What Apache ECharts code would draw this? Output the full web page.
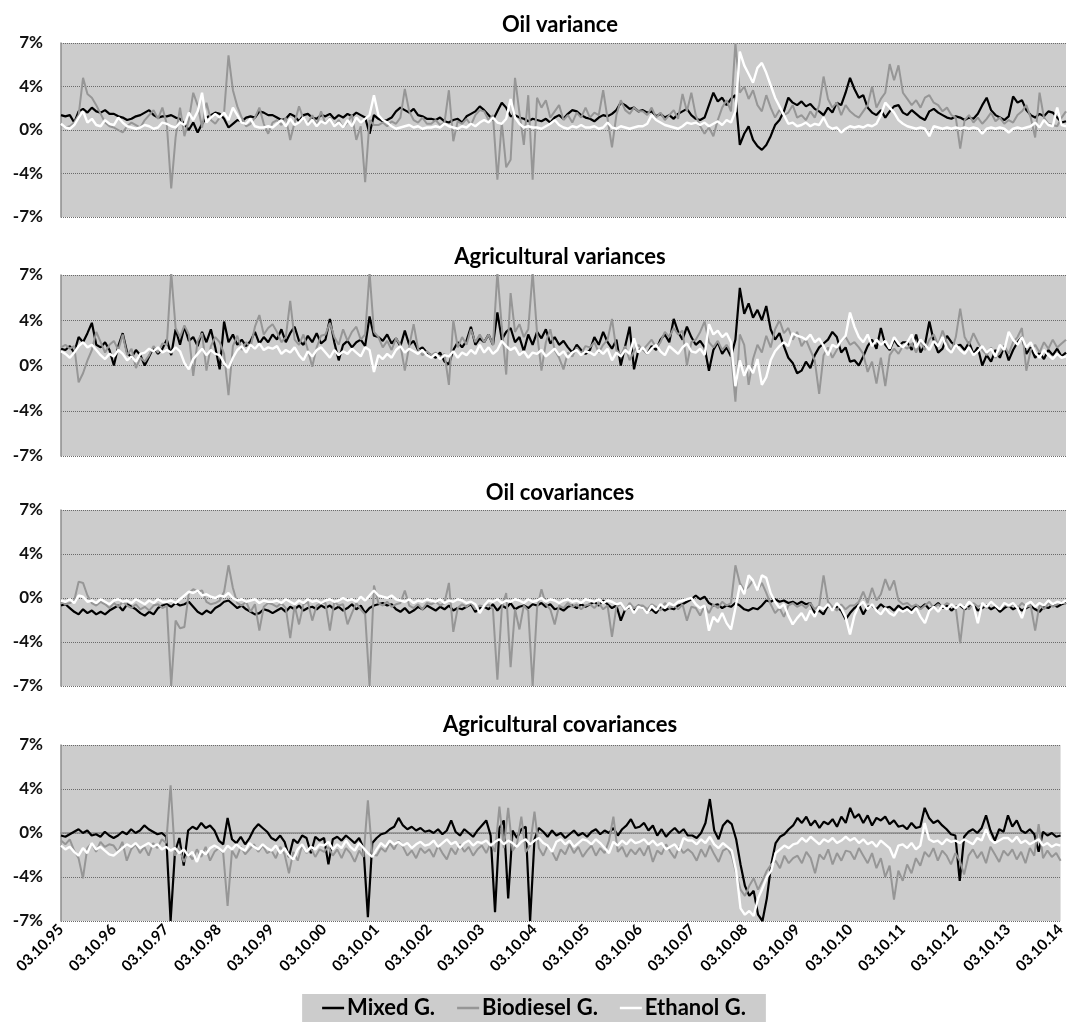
<!DOCTYPE html>
<html><head><meta charset="utf-8"><title>Variances and covariances</title>
<script src="https://cdn.jsdelivr.net/npm/echarts@6/dist/echarts.min.js"></script>
<style>html,body{margin:0;padding:0;background:#fff}#chart{width:1068px;height:1036px}</style>
</head><body><div id="chart"></div>
<script>
const tickLabels = ['03.10.95','03.10.96','03.10.97','03.10.98','03.10.99','03.10.00','03.10.01','03.10.02','03.10.03','03.10.04','03.10.05','03.10.06','03.10.07','03.10.08','03.10.09','03.10.10','03.10.11','03.10.12','03.10.13','03.10.14'];
const panelTitles = ['Oil variance','Agricultural variances','Oil covariances','Agricultural covariances'];
const seriesNames = ['Mixed G.','Biodiesel G.','Ethanol G.'];

// values in percent, one per month from Oct 1995 to Oct 2014
const oilVarMixed = [
1.2,1.1,1.2,0.6,1.5,1.7,1.4,1.8,1.5,1.4,1.6,1.3,
1.3,1.1,1.0,0.8,0.9,1.1,1.2,1.4,1.6,1.2,1.0,1.1,
1.1,1.2,1.0,0.9,0.5,0.0,0.6,-0.2,0.5,1.0,1.2,1.4,
1.3,0.9,0.2,0.5,0.8,0.7,1.0,1.1,1.0,1.5,1.4,1.2,
1.2,1.0,0.8,0.9,1.3,1.1,0.7,1.2,1.3,1.0,0.9,1.2,
1.1,1.3,0.9,1.2,1.0,1.3,1.1,1.4,1.2,1.0,-0.3,1.2,
0.9,0.7,0.8,1.0,1.5,1.8,1.6,1.4,1.7,1.2,1.1,0.9,
0.9,0.8,1.0,0.7,0.6,0.8,0.9,0.6,1.1,1.3,1.5,1.9,
1.6,1.2,0.8,1.5,2.2,1.8,1.1,1.2,1.0,0.9,0.7,0.9,
0.8,0.7,0.9,0.6,1.0,1.2,0.9,1.3,1.6,1.5,1.2,1.0,
0.9,0.7,1.0,1.2,1.1,1.3,1.6,2.2,2.0,1.7,1.8,1.5,
1.6,1.4,1.5,1.1,1.3,1.0,1.2,0.9,1.3,1.5,1.7,1.2,
0.9,0.8,1.0,2.0,3.0,2.3,2.6,2.0,2.5,2.8,-1.2,-0.3,
0.3,-0.8,-1.3,-1.6,-1.2,-0.5,0.4,0.8,1.5,2.6,2.2,2.0,
2.3,1.9,2.1,1.7,1.5,1.2,1.8,1.4,2.2,2.0,3.0,4.2,
3.3,2.6,2.8,1.8,1.4,1.2,1.6,1.0,1.5,1.9,2.0,1.4,
1.2,1.6,1.3,1.0,0.8,1.5,1.7,1.4,1.2,1.0,0.9,1.1,
1.0,0.8,1.0,0.9,1.3,2.0,2.6,1.6,1.2,1.0,0.8,1.1,
2.7,2.2,2.4,1.6,1.2,1.0,1.3,1.1,1.5,1.4,1.0,0.6,
0.7];
const oilVarBio = [
0.4,0.2,0.3,0.6,1.2,4.2,2.9,2.6,2.0,1.3,0.6,0.3,
0.2,0.0,-0.2,0.3,0.6,0.4,0.2,0.8,1.2,1.6,0.9,1.8,
0.5,-4.7,-0.6,1.8,-0.5,0.8,3.0,2.0,0.2,2.2,0.8,0.5,
1.0,1.4,6.0,3.2,1.9,1.0,0.3,0.5,1.0,1.8,0.5,-0.3,
0.6,0.8,0.4,1.0,-0.8,0.6,1.9,0.9,0.5,1.2,0.4,1.5,
0.5,1.0,0.3,0.8,0.2,0.6,1.2,-0.8,0.3,-4.2,0.8,0.4,
0.4,0.6,0.3,0.7,0.5,1.0,3.3,1.5,0.8,0.6,1.0,0.5,
0.5,0.8,0.4,0.6,3.2,-0.9,0.7,0.5,0.9,0.4,1.2,1.6,
1.5,0.8,1.2,-4.0,0.6,-3.0,-2.4,4.2,1.4,-1.2,2.8,-4.0,
2.6,1.8,2.4,1.0,1.5,2.0,0.8,1.2,0.6,1.4,1.0,1.8,
1.0,1.4,1.2,3.2,0.9,-1.4,1.2,2.4,1.6,1.3,1.8,1.5,
1.5,1.2,1.8,1.0,1.4,0.8,1.2,1.6,0.9,2.9,1.5,3.0,
1.2,0.3,-0.3,0.2,-0.5,0.8,1.8,2.4,1.5,7.0,3.0,3.5,
2.5,3.2,2.0,1.5,2.8,1.8,1.0,1.6,1.2,1.4,2.0,1.0,
1.2,0.8,1.5,1.0,2.0,4.3,2.5,1.8,2.2,1.2,2.0,1.5,
1.2,1.0,1.5,2.0,3.5,1.8,2.5,3.0,5.3,4.0,5.2,3.0,
2.5,2.0,2.4,1.8,2.6,2.8,2.2,2.0,1.5,1.8,1.2,1.0,
-1.5,0.8,1.2,0.6,1.0,0.5,0.9,1.4,0.7,1.0,0.5,0.8,
0.6,1.2,1.5,2.0,1.0,-0.6,3.0,1.0,0.5,0.4,0.3,1.0,
1.5];
const oilVarEth = [
0.5,0.2,0.1,0.4,1.0,1.5,0.6,0.9,0.4,0.3,0.8,0.5,
0.4,1.0,0.6,0.3,0.2,0.1,0.2,0.4,0.3,0.1,0.2,0.6,
0.5,0.3,0.2,0.6,0.4,1.4,0.8,1.5,3.0,0.6,1.0,1.3,
1.0,1.4,0.8,1.8,1.2,0.6,0.5,0.9,0.3,0.2,0.2,0.3,
0.2,0.5,0.8,0.3,0.9,0.4,0.6,1.0,0.4,0.8,0.3,0.7,
0.5,0.9,0.3,0.6,0.2,0.8,0.3,1.0,0.6,0.9,1.2,2.8,
1.2,0.8,0.6,0.3,0.1,0.2,0.3,0.4,0.2,0.3,0.1,0.2,
0.2,0.3,0.2,0.5,0.3,0.2,0.1,0.3,0.2,0.5,0.3,0.6,
0.8,0.6,1.0,0.6,0.5,0.9,2.5,1.0,0.5,0.2,0.3,0.2,
0.2,0.1,0.3,0.5,0.8,0.4,0.2,0.1,0.3,0.2,0.4,0.2,
0.2,0.3,0.1,0.2,0.6,0.2,0.1,0.3,0.2,0.1,0.2,0.3,
0.3,0.5,1.2,0.8,0.6,0.4,0.3,0.2,0.1,0.3,0.6,0.5,
0.6,0.4,0.6,0.3,0.5,0.7,0.4,0.8,0.6,1.5,6.3,5.2,
4.5,3.8,5.0,5.4,4.6,3.6,2.6,1.9,1.2,0.5,0.6,0.3,
0.4,0.6,0.3,0.5,0.4,1.0,0.3,0.1,0.2,-0.2,0.1,0.3,
0.2,0.3,0.2,0.4,0.3,0.5,1.2,2.2,1.8,1.4,0.8,0.5,
0.3,0.2,0.1,0.2,0.1,-0.5,0.3,0.2,0.1,0.2,0.1,0.2,
0.1,0.2,0.1,0.2,0.1,-0.3,0.1,0.2,0.1,0.2,0.1,-0.2,
0.1,0.2,0.1,0.2,0.3,0.6,0.2,0.8,0.4,0.3,1.8,0.4,
0.3];

const agVarMixed = [
1.3,1.2,1.5,1.0,2.2,1.8,2.5,3.3,1.6,1.4,1.8,1.2,
0.0,1.5,2.5,1.0,0.6,1.2,0.8,0.0,0.7,1.4,0.9,1.3,
2.0,0.8,2.8,1.6,3.0,1.9,2.2,1.5,2.6,1.8,2.8,1.4,
-0.3,3.4,1.8,2.4,1.6,2.0,1.5,1.9,2.6,1.7,2.2,1.8,
2.4,2.0,2.8,1.8,2.5,3.0,1.9,1.6,2.3,1.8,2.5,1.7,
2.0,3.6,1.8,0.4,1.6,1.9,1.4,1.8,2.0,1.5,3.8,2.3,
2.2,1.9,2.4,1.7,2.1,1.5,2.7,1.6,1.9,1.2,1.4,1.0,
0.8,0.6,1.0,0.3,0.1,1.2,1.8,1.4,1.9,3.0,1.6,2.1,
1.8,2.4,1.6,4.1,2.0,2.6,2.9,1.8,2.2,1.1,2.4,1.6,
2.6,2.1,2.8,1.7,2.2,1.6,1.9,1.4,1.0,1.6,1.2,0.9,
1.2,2.2,1.6,2.6,1.8,1.3,2.0,0.0,1.5,3.0,-0.3,1.2,
1.3,0.9,1.5,1.2,2.0,2.4,1.8,3.6,2.6,2.0,3.0,2.2,
1.6,1.9,1.4,-0.4,1.2,1.8,0.9,1.4,0.7,2.0,6.0,4.0,
4.8,3.7,4.3,3.5,4.6,2.8,2.0,2.5,1.5,0.6,0.2,-0.6,
-0.4,0.3,-0.2,0.8,1.4,1.7,2.0,2.6,2.2,1.0,1.4,0.3,
0.4,0.0,0.7,1.5,2.0,1.3,2.9,1.6,1.2,2.0,1.5,1.8,
1.8,1.2,2.4,1.0,1.6,3.4,1.9,1.0,1.3,2.3,1.8,1.5,
1.6,1.2,1.8,0.9,1.4,0.0,0.8,0.3,1.2,0.6,1.5,0.4,
1.2,1.8,2.2,0.9,1.4,0.6,1.0,0.5,1.2,0.8,1.3,0.7,
1.0];
const agVarBio = [
1.4,1.6,1.3,1.5,-1.3,-0.6,0.4,1.2,2.6,1.8,1.0,1.6,
1.9,1.2,2.4,0.8,1.3,-0.2,0.6,0.3,0.8,1.5,1.0,1.7,
1.6,7.2,2.9,2.2,3.1,2.4,-0.8,1.9,2.5,-0.4,1.5,2.2,
1.8,0.9,-2.3,1.5,2.3,1.2,1.8,1.4,3.0,3.9,2.4,2.9,
3.2,2.6,1.8,2.2,5.0,2.0,1.6,2.4,1.2,-0.1,1.4,2.3,
2.4,3.3,2.2,1.6,2.8,1.9,2.6,3.0,2.0,2.4,7.2,2.6,
2.2,1.4,1.9,1.2,2.1,1.6,-0.4,1.5,3.2,1.3,0.8,1.1,
0.8,1.0,0.6,0.9,-1.5,3.5,1.4,2.2,1.6,2.8,1.8,2.4,
1.8,2.4,1.6,7.2,3.0,-0.7,5.6,2.6,3.2,2.2,2.8,7.2,
2.5,-0.4,1.8,2.8,1.2,0.6,-0.3,1.0,0.7,1.4,0.9,1.5,
1.4,1.8,1.0,1.6,2.0,3.6,1.2,0.8,1.5,0.4,1.1,1.6,
1.2,1.6,2.0,1.4,1.8,2.6,2.2,2.9,2.4,2.7,0.0,1.8,
2.0,2.6,3.4,1.8,1.4,1.9,1.2,1.6,1.0,-2.8,2.4,1.6,
-1.5,0.5,1.6,1.0,2.3,1.4,2.8,3.5,2.5,2.9,2.0,2.6,
1.5,2.0,1.2,0.4,-2.2,0.8,1.4,0.6,1.2,1.9,2.2,1.6,
1.8,1.4,0.9,-0.5,0.3,-1.4,0.6,-1.6,0.8,1.3,0.9,1.5,
1.3,1.7,1.0,1.9,1.2,2.0,2.4,1.6,2.7,1.8,1.1,2.2,
4.4,2.2,1.6,2.5,1.8,1.2,0.8,1.4,0.6,1.0,1.5,0.9,
1.8,2.2,2.9,-0.4,1.2,1.6,1.0,1.8,1.3,2.0,1.4,1.7,
2.0];
const agVarEth = [
1.1,0.9,0.6,1.0,1.5,1.8,1.4,1.6,1.2,0.8,0.5,0.9,
0.7,1.2,0.9,0.4,0.7,0.3,0.9,1.0,1.3,1.1,1.4,1.0,
1.2,1.0,1.4,1.1,0.2,-0.3,0.5,0.9,1.3,0.8,1.2,0.9,
0.8,0.2,-0.2,0.6,1.2,1.5,1.0,1.6,1.3,1.7,1.2,1.4,
1.3,1.5,0.9,1.2,1.0,1.4,0.8,0.4,1.1,0.7,1.2,1.4,
1.0,0.6,1.2,0.8,1.1,0.9,1.3,1.0,0.7,1.4,1.2,-0.5,
0.8,0.5,0.9,0.6,1.2,1.5,1.0,1.3,1.1,0.9,1.2,0.8,
0.6,0.9,0.5,0.8,0.7,1.1,0.6,1.0,0.8,1.2,0.9,1.6,
1.0,1.4,0.9,1.2,1.9,1.5,1.2,1.4,0.8,1.1,0.6,1.0,
0.9,1.2,0.7,1.0,1.3,0.8,1.1,0.6,1.0,1.2,0.8,1.1,
1.0,0.8,1.2,0.9,1.3,0.4,1.0,0.7,1.2,0.9,2.1,1.0,
1.4,0.9,1.3,1.6,1.1,0.8,1.5,1.2,0.9,1.4,1.7,1.1,
1.0,1.3,0.8,3.2,2.4,2.7,2.2,2.5,1.8,-1.6,0.4,-0.8,
0.0,-0.6,0.5,-1.5,-0.9,0.4,1.1,1.5,1.8,1.5,2.5,2.3,
2.2,2.0,2.4,1.8,2.1,1.5,0.8,1.6,1.4,1.9,2.3,4.1,
3.0,2.2,1.8,2.4,1.5,2.0,1.6,1.9,1.3,2.2,1.7,1.4,
1.8,2.4,1.4,2.0,1.6,1.2,1.9,1.5,2.2,1.3,1.0,1.6,
1.2,0.9,1.4,0.8,1.1,1.5,1.0,1.3,0.7,1.6,1.2,2.6,
2.0,1.6,2.2,1.4,1.8,1.0,0.6,1.2,0.8,0.5,0.9,0.6,
0.7];

const oilCovMixed = [
-0.6,-0.5,-0.8,-1.1,-1.3,-0.9,-1.2,-1.0,-1.3,-1.1,-1.3,-1.0,
-0.8,-0.6,-1.0,-0.5,-0.7,-0.9,-1.2,-1.4,-1.1,-1.3,-0.8,-0.6,
-0.5,-0.7,-0.4,-0.6,-0.5,-0.3,-0.7,-1.1,-1.3,-1.0,-1.2,-0.8,
-0.6,-0.3,-0.2,-0.5,-0.8,-0.6,-0.9,-1.1,-1.3,-1.2,-0.9,-1.0,
-1.2,-1.0,-0.8,-1.1,-0.7,-0.9,-0.6,-1.0,-0.8,-0.7,-0.9,-0.6,
-0.8,-0.6,-0.9,-0.7,-1.0,-0.8,-0.5,-0.9,-0.6,-1.2,-0.8,-0.6,
-0.5,-0.4,-0.6,-0.5,-0.9,-1.1,-0.8,-1.2,-1.0,-0.7,-0.9,-0.6,
-0.8,-1.0,-0.7,-0.9,-0.6,-1.0,-0.8,-0.9,-0.7,-0.5,-1.1,-0.8,
-0.7,-0.9,-0.5,-1.0,-0.6,-0.8,-0.4,-0.9,-0.7,-0.6,-0.8,-0.5,
-0.6,-0.4,-0.7,-0.5,-0.9,-0.8,-1.0,-0.7,-0.6,-0.8,-0.5,-0.7,
-0.5,-0.3,-0.6,-0.2,-0.5,-0.8,-0.6,-1.8,-0.9,-0.7,-1.0,-0.6,
-0.8,-1.1,-0.9,-1.2,-0.7,-1.0,-0.8,-0.9,-0.6,-0.5,-0.3,-0.1,
0.2,-0.1,0.1,-0.4,-0.6,-0.5,-0.8,-0.6,-0.7,-0.4,-0.6,-0.9,
-1.0,-0.8,-0.9,-0.6,-0.2,-0.3,-0.1,-0.3,-0.2,-0.4,-0.3,-0.5,
-0.3,-0.5,-0.4,-1.2,-1.0,-1.3,-0.6,-0.9,-0.7,-1.0,-1.7,-1.2,
-0.8,-0.5,-1.3,-0.7,-0.6,-0.9,-0.5,-0.8,-0.7,-1.0,-0.6,-0.9,
-0.7,-1.0,-0.6,-0.8,-0.5,-0.9,-0.7,-0.4,-0.8,-0.6,-1.0,-0.7,
-0.6,-0.9,-0.7,-0.5,-1.0,-0.8,-0.6,-0.9,-0.7,-1.1,-0.8,-0.6,
-0.9,-0.7,-1.0,-0.8,-0.6,-0.9,-1.1,-0.7,-0.8,-0.5,-0.7,-0.5,
-0.4];
const oilCovBio = [
-0.3,-0.5,-0.4,-0.2,1.3,1.2,0.2,-0.4,-0.6,-0.3,-0.5,-0.8,
-0.4,-0.7,-0.3,-0.6,-0.8,-0.5,-0.9,-0.7,-1.0,-0.6,-0.5,-0.8,
-0.6,-7.0,-1.8,-2.4,-2.3,0.4,0.7,0.5,0.6,-0.3,-0.5,-0.4,
-0.2,0.5,2.6,0.8,-0.4,-0.6,-0.3,-1.1,-0.5,-2.6,-0.7,-0.4,
-0.5,-0.7,-0.4,-0.8,-3.2,-0.6,-2.1,-0.5,-0.3,-1.8,-0.6,-0.4,
-0.4,-2.6,-0.3,-0.6,-0.5,-2.1,-1.2,-0.4,-0.9,-1.3,-7.0,1.0,
-0.4,-0.6,-0.3,-0.7,-0.5,-0.4,0.6,-0.6,-0.8,-0.5,-0.9,-0.4,
-0.5,-0.3,-0.6,-0.4,1.2,-2.7,-0.8,-0.5,-0.7,-0.4,-0.9,-0.6,
-0.7,-0.5,-0.9,-6.5,-0.8,0.4,-5.5,-0.9,-2.5,-0.6,-1.0,-7.0,
-0.8,0.7,-0.5,-0.9,-2.1,-0.6,-0.8,-0.4,-0.7,-0.5,-0.9,-0.6,
-0.5,-0.8,-0.4,-0.9,-0.6,-3.1,-0.7,-0.5,-1.0,-0.4,-0.8,-0.6,
-0.6,-0.9,-0.5,-0.7,-1.0,-0.4,-0.8,-0.6,-0.9,-0.5,-1.8,-0.7,
-0.8,-1.4,-0.6,-1.2,-0.5,-0.8,-0.3,-0.6,-0.4,2.6,1.2,0.6,
0.9,1.4,0.6,1.2,0.4,-0.5,-1.2,-0.8,-1.5,-0.6,-0.4,-0.7,
-0.5,-0.8,-0.4,-0.9,-0.6,1.8,-0.3,-0.7,-1.0,-0.5,-0.9,-0.6,
-0.6,-0.3,0.5,-0.4,0.8,-0.2,0.3,1.5,0.6,1.4,-0.2,-0.5,
-0.4,-0.7,-0.5,-0.9,-0.6,-0.3,-0.8,-0.5,-0.7,-0.4,-0.6,-0.8,
-3.6,-0.6,-0.9,-0.4,-0.7,-0.5,-0.8,-0.3,-0.6,-0.9,-0.5,-0.7,
-0.5,-0.8,-0.4,-0.7,-0.6,-2.6,-0.5,-0.9,-0.4,-0.7,-0.5,-0.3,
-0.5];
const oilCovEth = [
-0.2,-0.3,-0.1,-0.4,0.2,0.1,-0.3,-0.2,-0.4,-0.1,-0.3,-0.5,
-0.2,-0.1,-0.3,-0.2,-0.4,-0.1,-0.3,-0.5,-0.2,-0.4,-0.1,-0.3,
-0.3,-0.2,-0.4,-0.1,0.2,0.5,0.4,0.6,0.2,0.3,0.1,0.0,
0.2,0.1,0.4,0.0,-0.2,-0.1,-0.3,-0.2,-0.1,-0.4,-0.2,-0.3,
-0.3,-0.2,-0.4,-0.1,-0.3,-0.5,-0.2,-0.4,-0.1,-0.3,-0.2,-0.4,
-0.2,-0.1,-0.3,-0.2,0.0,-0.2,-0.1,-0.3,0.1,-0.2,0.2,0.6,
0.2,0.1,0.0,0.2,-0.1,-0.2,-0.3,-0.1,-0.4,-0.2,-0.3,-0.1,
-0.2,-0.3,-0.1,-0.4,-0.2,-0.3,-0.1,-0.2,-0.4,-0.3,-0.5,-1.2,
-0.6,-0.2,-0.3,-0.1,-0.4,-0.2,-0.3,-0.1,-0.2,-0.4,-0.1,-0.3,
-0.2,0.0,-0.3,-0.1,-0.2,-0.4,-0.2,-0.1,-0.3,-0.2,-0.4,-0.1,
-0.2,-0.3,-0.1,-0.4,-0.2,-0.3,-0.5,-0.4,-0.9,-0.6,-1.2,-0.7,
-0.8,-1.2,-0.6,-1.0,-0.5,-0.8,-0.4,-0.6,-0.3,-0.2,-0.1,0.0,
-0.5,-0.8,-0.6,-2.6,-1.5,-1.9,-1.2,-2.0,-2.5,-0.8,1.0,0.3,
1.8,1.4,0.6,1.8,1.6,0.4,-0.3,-0.8,-0.5,-1.4,-2.1,-1.6,
-1.2,-1.8,-1.0,-1.5,-0.7,-0.9,-0.5,-1.0,-0.4,-0.8,-1.5,-2.9,
-1.4,-0.6,-0.3,-0.9,-0.5,-1.0,-1.3,-0.8,-1.2,-1.4,-0.9,-1.1,
-0.9,-1.2,-0.8,-1.5,-2.0,-1.0,-0.7,-1.1,-0.6,-0.9,-0.5,-0.8,
-0.5,-0.8,-0.3,-0.6,-2.0,-0.4,-0.7,-0.3,-0.6,-0.9,-0.4,-0.6,
-0.4,-0.8,-1.6,-0.5,-0.3,-0.7,-0.4,-0.6,-0.2,-0.5,-0.3,-0.4,
-0.2];

const agCovMixed = [
-0.2,-0.3,-0.1,0.1,0.3,0.0,0.2,-0.2,-0.1,-0.3,0.1,-0.2,
-0.4,-0.2,0.1,-0.1,0.3,0.0,0.2,0.6,0.3,0.1,-0.1,0.0,
-0.3,-7.0,-1.5,-0.4,-2.6,0.2,0.5,0.3,0.8,0.4,0.6,0.2,
-0.6,-0.9,1.2,-0.5,-0.8,-0.3,-0.9,-0.4,0.3,0.7,0.4,0.1,
-0.4,-0.6,-0.2,-0.7,-1.9,-0.5,-0.8,-0.2,-0.4,-1.6,-0.3,-0.6,
-0.4,-2.5,-0.5,-0.3,-0.6,-0.2,-0.5,-0.8,-0.4,-1.2,-6.7,-0.8,
-0.4,-0.1,0.0,0.3,0.5,1.2,0.6,0.3,0.5,0.2,0.4,0.1,
0.2,0.0,0.3,-0.1,0.2,1.0,0.1,-0.2,0.3,0.0,-0.3,0.2,
0.6,1.0,-0.2,-6.3,0.4,1.0,-5.2,0.2,-0.4,0.3,0.5,-7.0,
-0.5,0.4,0.1,-0.3,0.2,-0.2,0.0,-0.4,-0.1,0.2,-0.2,0.0,
-0.3,0.1,0.3,-0.1,0.2,0.0,0.4,-0.2,0.3,0.6,1.1,0.4,
0.5,0.8,0.2,0.6,-0.2,0.3,-0.3,0.1,0.4,0.0,0.3,-0.2,
-0.2,-0.4,0.0,0.8,2.7,0.2,-0.5,0.6,1.0,0.7,-0.5,-2.5,
-4.2,-5.0,-4.6,-6.5,-7.0,-5.2,-2.5,-0.8,-0.3,-0.1,0.3,0.6,
1.2,0.8,1.3,0.6,1.0,0.4,0.9,0.7,1.1,0.5,1.3,0.8,
2.0,1.2,1.5,0.8,1.4,0.6,1.2,1.0,1.3,0.7,1.0,0.5,
0.6,0.3,0.8,0.4,0.5,2.0,1.2,0.8,1.0,0.6,0.3,-0.1,
-0.2,-3.8,-0.3,0.1,0.3,0.0,0.4,1.4,0.2,-0.6,0.3,0.1,
1.4,0.5,1.0,0.2,0.0,0.3,-0.1,-1.5,0.1,-0.2,0.0,-0.3,
-0.2];
const agCovBio = [
-0.6,-0.9,-0.5,-1.4,-2.0,-3.6,-1.2,-0.8,-1.5,-0.7,-1.1,-0.9,
-1.0,-1.5,-0.7,-2.2,-1.3,-0.9,-1.6,-1.1,-1.8,-0.8,-1.2,-0.5,
-0.8,3.8,-1.8,-1.2,-2.3,-1.6,-2.1,-1.3,-1.9,-1.1,-2.2,-1.5,
-1.2,-1.6,-5.8,-1.4,-2.0,-1.1,-1.7,-1.3,-0.9,-1.5,-1.0,-1.6,
-1.4,-2.0,-1.1,-1.7,-3.2,-1.5,-2.2,-1.0,-1.6,-1.2,-1.9,-1.3,
-1.5,-1.1,-1.8,-1.3,-2.0,-1.2,-1.6,-2.3,-1.4,-1.9,2.6,-1.7,
-1.8,-1.2,-1.5,-0.8,-1.3,-0.6,-1.1,-1.8,-1.4,-2.0,-1.2,-1.6,
-1.3,-1.9,-1.0,-1.6,-2.1,-1.2,-1.7,-0.9,-1.5,-1.1,-1.8,-1.3,
-1.0,-1.6,-0.8,-1.5,2.1,-1.2,2.0,-1.4,-0.9,1.3,-1.5,-1.0,
1.7,-1.2,-1.8,-1.0,-1.5,-2.2,-1.3,-1.7,-0.9,-1.6,-1.1,-1.9,
-1.4,-1.0,-1.8,-1.2,-1.6,-0.6,1.3,-1.5,-1.1,-1.9,-1.3,-1.7,
-1.2,-1.8,-1.0,-2.3,-1.4,-1.7,-0.9,-1.5,-2.0,-1.1,-1.6,-1.3,
-1.6,-2.2,-1.3,-1.9,-1.0,-1.7,-2.3,-1.4,-1.2,-1.8,-3.2,-4.5,
-5.0,-4.2,-3.6,-4.5,-3.8,-3.0,-2.5,-2.2,-2.8,-1.8,-2.4,-2.0,
-1.8,-2.4,-1.5,-2.0,-3.2,-1.7,-2.1,-1.3,-2.5,-1.6,-2.2,-1.4,
-1.5,-2.1,-1.2,-1.8,-2.4,-1.6,-2.8,-2.0,-3.5,-2.6,-5.3,-3.0,
-3.8,-2.5,-3.2,-2.0,-2.6,-1.5,-1.9,-1.2,-2.2,-1.4,-1.8,-2.5,
-1.6,-2.2,-3.3,-1.8,-1.3,-2.0,-1.5,-2.4,-1.1,-1.7,-2.3,-1.4,
-1.8,-1.3,-2.1,-1.5,-2.4,-1.2,-1.8,0.7,-2.0,-1.4,-1.9,-1.6,
-2.2];
const agCovEth = [
-1.0,-1.3,-1.1,-1.5,-1.8,-1.2,-1.6,-0.8,-1.3,-1.1,-1.4,-1.7,
-1.8,-1.5,-1.2,-0.9,-1.1,-0.8,-1.2,-1.0,-0.8,-1.1,-0.9,-1.3,
-1.1,-1.4,-1.2,-1.6,-1.3,-1.8,-1.5,-2.3,-1.4,-1.7,-1.2,-1.0,
-1.2,-1.5,-1.0,-1.3,-0.9,-1.2,-1.4,-0.8,-1.1,-1.3,-0.9,-1.2,
-1.4,-1.0,-1.6,-1.2,-1.8,-2.1,-1.3,-0.9,-1.5,-1.1,-1.3,-0.9,
-1.0,-0.7,-1.3,-0.9,-1.2,-0.6,-1.1,-1.4,-0.8,-1.2,-1.6,-1.9,
-1.3,-0.8,-1.1,-0.6,-0.9,-0.7,-1.0,-0.8,-1.2,-0.9,-0.7,-1.0,
-0.9,-0.6,-1.1,-0.8,-0.5,-0.9,-0.7,-1.2,-0.8,-0.6,-1.0,-0.7,
-0.8,-0.6,-1.0,-0.7,-0.5,-0.9,-0.6,-0.8,-1.1,-0.7,-0.5,-0.9,
-0.6,-0.4,-0.8,-1.0,-1.5,-0.7,-0.5,-0.9,-0.6,-1.1,-0.8,-0.5,
-0.6,-0.9,-0.5,-0.8,-1.2,-1.6,-0.7,-1.0,-0.6,-0.9,-0.5,-0.8,
-0.7,-0.5,-0.9,-0.6,-1.0,-0.8,-1.3,-1.1,-0.9,-1.4,-0.4,-0.6,
-0.6,-0.9,-0.5,-0.8,-0.3,-0.9,-1.2,-0.8,-1.1,-1.4,-3.0,-6.0,
-6.5,-6.2,-6.6,-5.2,-4.4,-3.5,-3.0,-1.6,-1.3,-1.0,-1.2,-0.9,
-0.8,-0.4,-0.7,-0.3,-0.6,-0.9,-0.5,-0.7,-0.4,-0.8,-0.6,-0.3,
-0.6,-0.4,-0.8,-0.5,-0.9,-0.7,-1.1,-0.6,-0.9,-1.2,-2.0,-1.0,
-0.9,-1.2,-0.8,-1.3,-1.0,0.8,-0.5,-0.7,-0.6,-0.9,-0.5,-0.7,
-0.6,-0.8,-0.5,-0.7,-0.9,-0.4,-0.6,0.3,-0.5,-0.8,-0.6,-0.4,
-0.4,-0.7,-0.3,-0.8,-0.6,-0.9,-0.7,-0.5,-1.0,-0.8,-1.1,-0.9,
-1.0];

// monthly categories, Oct 1995 .. Oct 2014 (labels every 12th = tickLabels)
const categories = [];
for (let i = 0; i < oilVarMixed.length; i++) {
  const mIdx = 9 + i;
  const yr = (1995 + Math.floor(mIdx / 12)) % 100;
  const mo = (mIdx % 12) + 1;
  categories.push('03.' + String(mo).padStart(2, '0') + '.' + String(yr).padStart(2, '0'));
}

const panels = [
  [oilVarMixed, oilVarBio, oilVarEth],
  [agVarMixed, agVarBio, agVarEth],
  [oilCovMixed, oilCovBio, oilCovEth],
  [agCovMixed, agCovBio, agCovEth]
];
const colors = ['#000000', '#969696', '#ffffff'];
const widths = [2.2, 2, 2.4];
const gridTops = [43, 275, 510, 745];
const gridHeights = [174, 181, 176, 176];
const titleTops = [14, 246, 482, 714];
const FONT = 'Lato, "Open Sans", sans-serif';

const grid = gridTops.map((t, i) => ({
  left: 61, right: 2, top: t, height: gridHeights[i],
  show: true, backgroundColor: '#cccccc', borderWidth: 0, containLabel: false
}));

const xAxis = [];
for (let i = 0; i < 4; i++) {
  const last = i === 3;
  xAxis.push({
    type: 'category', gridIndex: i, data: categories, boundaryGap: false,
    axisLine: { show: false, onZero: false },
    axisTick: { show: false },
    splitLine: { show: false },
    axisLabel: last ? {
      show: true, interval: 11, rotate: 45, margin: 6,
      fontFamily: FONT, fontWeight: 'bold', fontSize: 15, color: '#000',
      formatter: v => (tickLabels.indexOf(v) >= 0 ? v : '')
    } : { show: false }
  });
}
// zero line axis for last panel
xAxis.push({
  type: 'category', gridIndex: 3, data: categories, boundaryGap: false,
  axisLine: { show: true, onZero: true, lineStyle: { color: '#8a8a8a', width: 1.5 } },
  axisTick: { show: false }, axisLabel: { show: false }, splitLine: { show: false }
});

const yAxis = gridTops.map((t, i) => ({
  type: 'value', gridIndex: i, min: -7, max: 7, interval: 3.5,
  axisLine: { show: true, lineStyle: { color: '#8e8e8e', width: 1.5 } },
  axisTick: { show: false },
  splitLine: { show: true, lineStyle: { color: '#6a6a6a', type: [1, 1], width: 1 } },
  axisLabel: {
    margin: 18, fontFamily: FONT, fontWeight: 'bold', fontSize: 17, color: '#111',
    padding: [6, 0, 0, 0],
    formatter: v => (v < 0 ? '-' : '') + Math.round(Math.abs(v)) + '%'
  }
}));

const series = [];
panels.forEach((p, i) => {
  p.forEach((d, j) => {
    series.push({
      name: seriesNames[j], type: 'line', xAxisIndex: i, yAxisIndex: i,
      data: d, symbol: 'none', showSymbol: false, animation: false,
      lineStyle: { color: colors[j], width: widths[j] },
      itemStyle: { color: colors[j] },
      emphasis: { disabled: true }
    });
  });
});

const title = panelTitles.map((t, i) => ({
  text: t, left: 560, top: titleTops[i], textAlign: 'center', padding: 0,
  textStyle: { fontFamily: FONT, fontWeight: 'bold', fontSize: 22, color: '#000' }
}));

const chart = echarts.init(document.getElementById('chart'), null, { renderer: 'canvas' });
chart.setOption({
  animation: false,
  backgroundColor: '#ffffff',
  textStyle: { fontFamily: FONT },
  title: title,
  legend: {
    data: seriesNames, left: 'center', top: 994,
    backgroundColor: '#cccccc', padding: [3, 20], itemGap: 22,
    icon: 'rect', itemWidth: 22, itemHeight: 2.5,
    textStyle: { fontFamily: FONT, fontWeight: 'bold', fontSize: 22, color: '#000', padding: [0, 0, 0, -2] }
  },
  grid: grid, xAxis: xAxis, yAxis: yAxis, series: series
});
</script></body></html>
